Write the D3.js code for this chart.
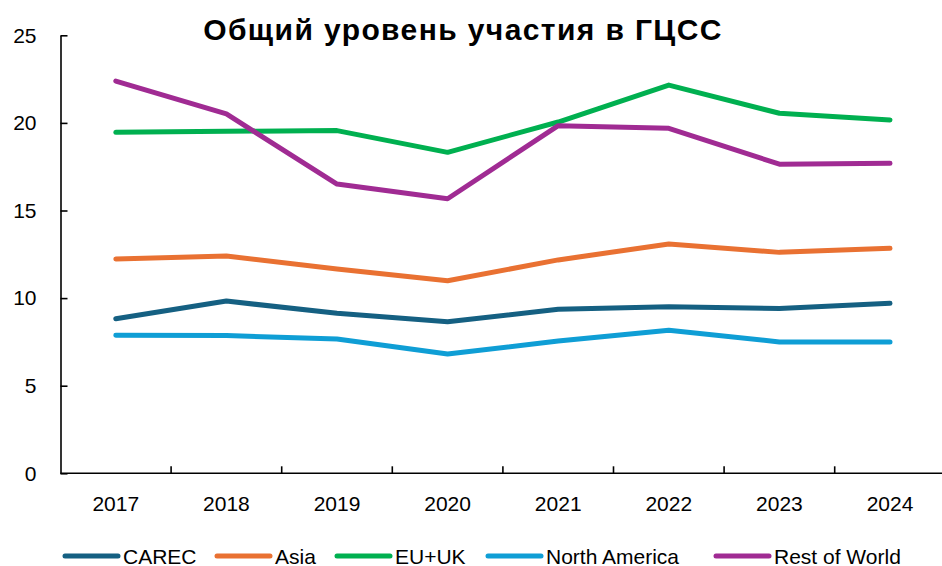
<!DOCTYPE html>
<html>
<head>
<meta charset="utf-8">
<script src="https://cdn.jsdelivr.net/npm/d3@7"></script>
<style>
  html, body { margin: 0; padding: 0; background: #fff; }
  svg { display: block; font-family: "Liberation Sans", Arial, sans-serif; }
</style>
</head>
<body>
<svg id="chart" width="942" height="566"></svg>
<script>
const title = "Общий уровень участия в ГЦСС";
const years = ["2017", "2018", "2019", "2020", "2021", "2022", "2023", "2024"];
const seriesNames = ["CAREC", "Asia", "EU+UK", "North America", "Rest of World"];
const carec = [8.82, 9.83, 9.13, 8.65, 9.36, 9.51, 9.40, 9.70];
const asia = [12.23, 12.40, 11.66, 10.99, 12.18, 13.09, 12.61, 12.84];
const euuk = [19.46, 19.52, 19.56, 18.32, 20.05, 22.16, 20.55, 20.17];
const northAmerica = [7.88, 7.86, 7.67, 6.81, 7.55, 8.16, 7.50, 7.50];
const restOfWorld = [22.39, 20.51, 16.51, 15.67, 19.84, 19.69, 17.64, 17.69];
const yTicks = [0, 5, 10, 15, 20, 25];
const colors = ["#156082", "#E97132", "#00B050", "#0F9ED5", "#A02B93"];

const seriesValues = [carec, asia, euuk, northAmerica, restOfWorld];
const series = seriesNames.map((name, i) => ({ name, values: seriesValues[i], color: colors[i] }));

const svg = d3.select("#chart");
const mLeft = 60.5, mRight = 945.3, mTop = 35.3, mBottom = 473.3;

const x = d3.scaleBand().domain(years).range([mLeft, mRight]).padding(0);
const y = d3.scaleLinear().domain([0, 25]).range([mBottom, mTop]);

// Y axis
const yAxis = svg.append("g")
  .attr("transform", `translate(${mLeft},0)`)
  .call(d3.axisLeft(y).tickValues(yTicks).tickSizeInner(-7).tickSizeOuter(0).tickPadding(24));
yAxis.select(".domain").attr("stroke", "#000").attr("stroke-width", 1.6);
yAxis.selectAll(".tick line").attr("stroke", "#000").attr("stroke-width", 1.6);
yAxis.selectAll(".tick text").attr("font-size", 21).attr("fill", "#000")
  .attr("font-family", "Liberation Sans, Arial, sans-serif");

// X axis labels
const xAxis = svg.append("g")
  .attr("transform", `translate(0,${mBottom})`)
  .call(d3.axisBottom(x).tickSize(0).tickPadding(23));
xAxis.select(".domain").remove();
xAxis.selectAll(".tick text").attr("font-size", 21).attr("fill", "#000")
  .attr("font-family", "Liberation Sans, Arial, sans-serif");

// X axis line + boundary ticks
svg.append("line")
  .attr("x1", mLeft).attr("x2", mRight)
  .attr("y1", mBottom).attr("y2", mBottom)
  .attr("stroke", "#000").attr("stroke-width", 1.6);
svg.append("g").selectAll("line")
  .data(years.slice(1))
  .join("line")
  .attr("x1", d => x(d)).attr("x2", d => x(d))
  .attr("y1", mBottom).attr("y2", mBottom - 7)
  .attr("stroke", "#000").attr("stroke-width", 1.6);

// Lines
const line = d3.line()
  .x((d, i) => x(years[i]) + x.bandwidth() / 2)
  .y(d => y(d));

svg.append("g").selectAll("path")
  .data(series)
  .join("path")
  .attr("d", d => line(d.values))
  .attr("fill", "none")
  .attr("stroke", d => d.color)
  .attr("stroke-width", 5)
  .attr("stroke-linecap", "round")
  .attr("stroke-linejoin", "round");

// Title
svg.append("text")
  .attr("x", 463).attr("y", 40)
  .attr("text-anchor", "middle")
  .attr("font-size", 30)
  .attr("font-weight", "bold")
  .attr("letter-spacing", 1.4)
  .attr("fill", "#000")
  .text(title);

// Legend
const legendX = [65, 217, 337, 488, 716];
const legend = svg.append("g").selectAll("g")
  .data(series)
  .join("g")
  .attr("transform", (d, i) => `translate(${legendX[i]},556)`);
legend.append("line")
  .attr("x1", 0).attr("x2", 53)
  .attr("y1", 0).attr("y2", 0)
  .attr("stroke", d => d.color)
  .attr("stroke-width", 5)
  .attr("stroke-linecap", "round");
legend.append("text")
  .attr("x", 58).attr("y", 7.5)
  .attr("font-size", 21)
  .attr("fill", "#000")
  .text(d => d.name);
</script>
</body>
</html>
